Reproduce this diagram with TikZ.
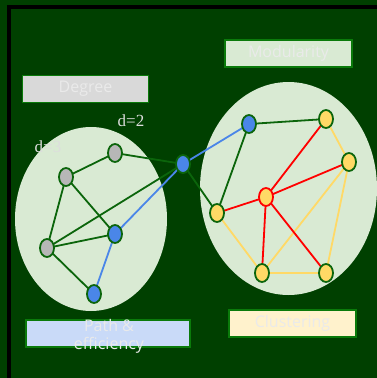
\documentclass[tikz,border=0pt]{standalone}
\usepackage{fontspec}
\setsansfont{Open Sans}
\newfontfamily\dserif{Liberation Serif}
\usetikzlibrary{shapes.geometric}
\pgfdeclarelayer{backlayer}
\pgfdeclarelayer{edgelayer}
\pgfsetlayers{backlayer,edgelayer,main}
\definecolor{bg}{HTML}{004000}
\definecolor{clus}{HTML}{D9EAD3}
\definecolor{edgegreen}{HTML}{0B650B}
\definecolor{boxedge}{HTML}{0A7A0A}
\definecolor{myblue}{HTML}{4A86E8}
\definecolor{myred}{HTML}{FF0000}
\definecolor{myyellow}{HTML}{FFD966}
\definecolor{mygray}{HTML}{B7B7B7}
\definecolor{labtext}{HTML}{EAEAEA}
\definecolor{dtext}{HTML}{DDDDDD}
\definecolor{boxgray}{HTML}{D9D9D9}
\definecolor{boxgreen}{HTML}{D9EAD3}
\definecolor{boxblue}{HTML}{C9DAF8}
\definecolor{boxyellow}{HTML}{FFF2CC}
\tikzset{
  vert/.style={ellipse, draw=edgegreen, line width=1.8pt, minimum width=14pt, minimum height=18pt, inner sep=0pt},
  gnode/.style={vert, fill=mygray},
  bnode/.style={vert, fill=myblue},
  ynode/.style={vert, fill=myyellow},
  rnode/.style={vert, fill=myyellow, draw=myred},
  ge/.style={draw=edgegreen, line width=1.8pt},
  be/.style={draw=myblue, line width=1.8pt},
  re/.style={draw=myred, line width=1.8pt},
  ye/.style={draw=myyellow, line width=1.8pt},
  labbox/.style={rectangle, draw=boxedge, line width=1.5pt, inner sep=0pt},
  labtxt/.style={text=labtext, font=\sffamily\fontsize{16}{18}\selectfont, align=center, inner sep=0pt},
  dlab/.style={text=dtext, font=\dserif\fontsize{17}{19}\selectfont, inner sep=0pt}
}
\begin{document}
\begin{tikzpicture}[x=1pt,y=-1pt]
\useasboundingbox (0,0) rectangle (377,378);
\begin{pgfonlayer}{backlayer}
\fill[bg] (0,0) rectangle (377,378);
\draw[black, line width=4pt] (9,380) -- (9,7) -- (380,7);
\fill[clus] (91,219) ellipse [x radius=76, y radius=92];
\fill[clus] (288.5,188.5) ellipse [x radius=88.5, y radius=106.5];
\end{pgfonlayer}
% label boxes
\node[labbox, fill=boxgray, minimum width=126pt, minimum height=27pt] (degbox) at (85.5,89) {};
\node[labtxt] (degtxt) at (degbox.center) {Degree};
\node[labbox, fill=boxgreen, minimum width=127pt, minimum height=27pt] (modbox) at (288.5,53.5) {};
\node[labtxt] (modtxt) at (modbox.center) {Modularity};
\node[labbox, fill=boxblue, minimum width=164pt, minimum height=27pt] (pathbox) at (108,333.5) {};
\node[labtxt] (pathtxt) at (109,336) {Path \&\\efficiency};
\node[labbox, fill=boxyellow, minimum width=127pt, minimum height=27pt] (clubox) at (292.5,323.5) {};
\node[labtxt] (clutxt) at (clubox.center) {Clustering};
% degree labels
\node[dlab] (d2) at (131,121) {d=2};
\node[dlab] (d3) at (48,147) {d=3};
% nodes
\node[gnode] (A) at (115,153) {};
\node[gnode] (B) at (66,177) {};
\node[gnode] (C) at (47,248) {};
\node[bnode] (D) at (115,234) {};
\node[bnode] (E) at (94,294) {};
\node[bnode] (H0) at (183,164) {};
\node[bnode] (F) at (249,124) {};
\node[ynode] (G) at (326,119) {};
\node[ynode] (H) at (349,162) {};
\node[ynode] (I) at (217,213) {};
\node[rnode] (J) at (266,197) {};
\node[ynode] (K) at (262,273) {};
\node[ynode] (L) at (326,273) {};
% edges
\begin{pgfonlayer}{edgelayer}
\path[ge] (A.center) -- (B.center);
\path[ge] (A.center) -- (H0.center);
\path[ge] (B.center) -- (C.center);
\path[ge] (B.center) -- (D.center);
\path[ge] (C.center) -- (D.center);
\path[ge] (C.center) -- (H0.center);
\path[ge] (C.center) -- (E.center);
\path[ge] (F.center) -- (G.center);
\path[ge] (F.center) -- (I.center);
\path[ge] (H0.center) -- (I.center);
\path[be] (H0.center) -- (F.center);
\path[be] (H0.center) -- (D.center);
\path[be] (D.center) -- (E.center);
\path[ye] (G.center) -- (H.center);
\path[ye] (I.center) -- (K.center);
\path[ye] (K.center) -- (L.center);
\path[ye] (H.center) -- (L.center);
\path[ye] (K.center) -- (H.center);
\path[re] (J.center) -- (G.center);
\path[re] (J.center) -- (H.center);
\path[re] (J.center) -- (I.center);
\path[re] (J.center) -- (K.center);
\path[re] (J.center) -- (L.center);
\end{pgfonlayer}
\end{tikzpicture}
\end{document}
